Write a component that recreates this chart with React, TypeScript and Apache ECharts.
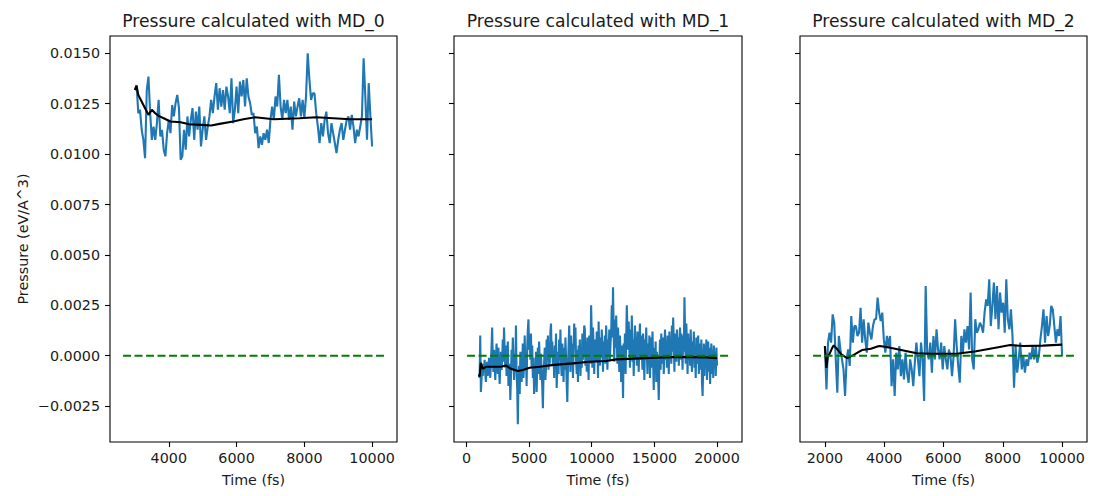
import React, { useEffect, useRef } from "react";
import * as echarts from "echarts";

// ---------- DATA ----------
const TITLES = ["Pressure calculated with MD_0", "Pressure calculated with MD_1", "Pressure calculated with MD_2"];
const X_LABEL = "Time (fs)";
const Y_LABEL = "Pressure (eV/A^3)";

// time sampling of each run (fs)
const TIME_RANGE_1 = [3000, 10000];
const TIME_RANGE_2 = [1000, 20000];
const TIME_RANGE_3 = [2000, 10000];

// instantaneous pressure, MD_0
const P1 = [
  0.01318, 0.01343, 0.01203, 0.0122, 0.01121, 0.01071, 0.0098, 0.01318, 0.01385, 0.01203,
  0.01071, 0.01137, 0.01071, 0.01154, 0.01269, 0.01088, 0.01121, 0.01022, 0.00989, 0.01104,
  0.0117, 0.01104, 0.01244, 0.01187, 0.01253, 0.01294, 0.01228, 0.00972, 0.00989, 0.01121,
  0.01022, 0.01187, 0.01088, 0.0117, 0.01228, 0.01071, 0.01211, 0.01121, 0.01236, 0.01038,
  0.01121, 0.01187, 0.01071, 0.01137, 0.01187, 0.01269, 0.01203, 0.01286, 0.01352, 0.0122,
  0.01327, 0.01236, 0.01318, 0.0122, 0.01335, 0.01286, 0.01203, 0.01376, 0.01154, 0.0122,
  0.01335, 0.01203, 0.0136, 0.01286, 0.01368, 0.01236, 0.01376, 0.01286, 0.01253, 0.01195,
  0.01203, 0.01104, 0.01137, 0.0103, 0.01088, 0.01046, 0.01104, 0.01071, 0.01121, 0.01055,
  0.0117, 0.01236, 0.0117, 0.01286, 0.01236, 0.01393, 0.01236, 0.0117, 0.01269, 0.01203,
  0.01269, 0.0117, 0.01236, 0.01121, 0.01261, 0.01187, 0.01236, 0.01277, 0.01187, 0.01269,
  0.01178, 0.01286, 0.015, 0.01368, 0.01269, 0.01302, 0.01302, 0.01203, 0.01137, 0.01055,
  0.01154, 0.01088, 0.0117, 0.01211, 0.01104, 0.01055, 0.01154, 0.01104, 0.01055, 0.01005,
  0.01071, 0.01121, 0.01154, 0.01071, 0.01121, 0.0117, 0.01187, 0.01121, 0.01195, 0.01137,
  0.01055, 0.01121, 0.01088, 0.01137, 0.01187, 0.01475, 0.01286, 0.01071, 0.01352, 0.01187,
  0.01038,
];

// instantaneous pressure, MD_1
const P2 = [
  -0.0009, -0.0011, 0.001, -0.0018, -0.0012, -0.0005, -0.001, -0.0004, -0.0008, -0.0002, -0.0009, -0.0013, -0.0006, -0.0003, -0.001, -0.0007, -0.0001, -0.0006, -0.0011, -0.0004,
  0.0004, 0.0014, -0.0002, -0.0008, 0.0003, -0.0005, -0.0012, -0.0003, 0.0006, -0.0001, -0.0009, 0.0004, -0.0006, -0.0014, -0.0004, 0.0002, -0.0007, -0.0002, 0.0008, -0.0003,
  0.0014, 0.0002, -0.0006, 0.0005, -0.001, -0.0003, 0.0007, -0.0015, -0.0008, -0.0004, -0.0022, -0.0011, 0.0003, -0.0006, 0.0009, -0.0002, -0.0012, 0.0001, -0.0007, 0.0015,
  -0.0009, -0.0016, -0.0034, -0.0012, -0.0005, -0.0019, 0.0002, -0.0008, -0.0013, -0.0003, 0.0006, -0.0011, -0.0004, 0.001, -0.0007, 0.0001, -0.0015, 0.0004, 0.0013, 0.0018,
  0.0003, 0.0009, -0.0002, 0.0011, -0.0006, 0.0005, -0.0011, -0.0001, -0.0019, -0.0008, -0.0014, 0.0002, -0.0018, -0.0005, 0.0004, -0.0009, 0.0007, -0.0003, -0.0012, 0.0001,
  -0.0008, -0.0015, -0.0026, -0.001, -0.0003, 0.0004, -0.0012, -0.0006, 0.0008, -0.0002, 0.001, -0.0007, 0.0003, -0.0004, 0.0012, 0.0016, -0.0001, 0.0007, -0.0005, 0.0002,
  -0.0011, 0.0005, -0.0003, 0.0011, -0.0016, -0.0006, 0.0002, -0.0009, 0.0008, -0.0002, 0.0013, -0.0004, -0.001, 0.0006, 0.0, -0.0013, 0.0004, -0.0007, 0.0009, -0.0001,
  -0.0014, -0.0023, -0.0006, 0.0004, 0.0015, 0.0002, -0.0008, 0.001, -0.0003, 0.0006, -0.0011, 0.0001, 0.0016, 0.0007, 0.0014, -0.0002, -0.0009, 0.0003, -0.0013, 0.0005,
  -0.0004, 0.0008, -0.001, 0.0002, -0.0006, 0.0011, -0.0002, 0.0004, 0.0015, 0.0013, -0.0005, 0.0007, -0.0008, 0.0009, 0.0001, -0.0012, 0.001, 0.0003, -0.0004, 0.0025,
  0.0011, -0.0006, 0.0014, 0.0004, -0.0009, 0.0008, 0.0001, -0.0003, 0.0012, 0.0006, -0.0011, 0.0017, 0.0002, -0.0005, 0.0009, -0.0001, 0.0013, 0.0004, -0.0008, 0.0007,
  0.0, 0.001, -0.0004, 0.0015, 0.0005, -0.0007, 0.0008, 0.0002, 0.0013, -0.0002, 0.0006, 0.0011, 0.0025, 0.0009, 0.0034, 0.0012, -0.0003, 0.0018, 0.0004, 0.002,
  0.0007, -0.0004, 0.0014, 0.0003, -0.0008, 0.001, 0.0001, -0.0013, 0.0005, -0.0005, -0.0021, 0.0006, -0.0002, 0.0011, -0.0009, 0.0008, 0.0025, 0.0012, 0.0003, 0.0017,
  0.0004, -0.0006, 0.0013, 0.0001, 0.002, -0.0003, 0.0008, -0.001, 0.0006, 0.0015, -0.0001, 0.0009, -0.0005, 0.0012, 0.0003, -0.0008, 0.0007, 0.0016, -0.0002, 0.001,
  0.0002, -0.0007, 0.0011, 0.0005, -0.0012, 0.0008, -0.0002, 0.0014, 0.0001, -0.0009, 0.0006, -0.0004, 0.001, -0.0011, 0.0003, 0.0009, -0.0006, 0.0012, -0.0003, -0.0017,
  0.0004, -0.0008, 0.0007, -0.0013, 0.0002, -0.0005, -0.001, -0.0022, -0.0003, 0.0008, -0.0007, 0.0011, 0.0001, -0.0004, 0.0009, -0.0009, 0.0005, 0.0013, -0.0002, 0.0007,
  -0.0006, 0.001, 0.0003, -0.0009, 0.0012, -0.0001, 0.0006, -0.0004, 0.0015, 0.0002, 0.0019, 0.0007, -0.0008, 0.0011, 0.0004, -0.0003, 0.0013, 0.0, 0.0009, -0.0005,
  0.0008, 0.0014, -0.0002, 0.0011, 0.0005, -0.0007, 0.001, 0.0002, 0.0029, 0.0012, -0.0004, 0.0016, 0.0006, -0.0009, 0.0011, 0.0003, 0.0008, -0.0005, 0.0013, 0.0001,
  -0.0008, 0.0007, -0.0002, 0.0012, -0.0006, 0.0004, -0.0011, 0.0009, 0.0001, -0.0004, 0.001, -0.0009, 0.0006, 0.0002, -0.0007, 0.0008, -0.0013, -0.002, -0.0005, 0.0006,
  -0.001, 0.0005, -0.0003, 0.0008, -0.0012, -0.0001, 0.0007, -0.0008, 0.0004, -0.0014, -0.0002, 0.0006, -0.0009, 0.0003, -0.0011, 0.0005, -0.0006, 0.0002, -0.001, 0.0004,
  -0.0005,
];

// instantaneous pressure, MD_2
const P3 = [
  0.00048, -0.00167, 0.00065, 0.00114, 0.00065, 0.00205, 0.00164, -0.00018, -0.00184, 0.00098,
  0.00031, -0.00018, -0.00068, -0.002, -0.00018, 0.00031, -0.00051, 0.00197, 0.00065, 0.00147,
  0.00147, 0.00098, 0.00114, 0.00238, 0.00065, 0.00181, 0.00081, 0.00015, 0.00164, 0.00114,
  0.00081, 0.00147, 0.00181, 0.00181, 0.00288, 0.00214, 0.00172, 0.00214, 0.00081, 0.00015,
  0.00098, 0.00048, 0.00098, -0.00151, -0.00018, -0.002, 0.00015, -0.00068, 0.00048, -0.00101,
  -0.00018, -0.00118, 0.00015, -0.00084, -0.00134, -0.00018, -0.00068, -0.00151, -0.00035, 0.00065,
  -0.00018, -0.00101, 0.00065, -0.00018, -0.00225, 0.00346, 0.00015, -0.00018, 0.00065, -0.00084,
  0.00098, -0.00018, 0.00131, 0.00031, -0.00018, 0.00065, -0.00068, 0.00048, -0.00018, -0.00068,
  0.00031, -0.00002, -0.00101, -0.00002, 0.00181, 0.00048, -0.00051, -0.00134, 0.00098, 0.00015,
  0.00131, 0.00065, 0.00147, 0.00031, 0.00313, -0.00018, -0.00068, 0.00181, 0.00114, 0.00131,
  0.00164, 0.00147, 0.00114, 0.00214, 0.0028, 0.00247, 0.00379, 0.00147, 0.00247, 0.00363,
  0.00181, 0.00346, 0.00131, 0.00313, 0.00214, 0.00263, 0.00114, 0.00379, 0.00181, 0.00131,
  0.0023, 0.00098, -0.00159, 0.00048, -0.00084, -0.00018, 0.00065, -0.00068, -0.00002, -0.00084,
  -0.00018, -0.00051, 0.00015, -0.00018, 0.00048, -0.00018, 0.00048, -0.00035, -0.00002, 0.00081,
  0.00147, 0.0023, 0.00065, 0.00197, 0.00098, 0.00147, 0.00247, 0.0023, 0.00147, 0.00065,
  0.00131, 0.00098, 0.00197, -0.00002,
];

// running average (black curves)
const AVG1_T = [3000, 3050, 3100, 3150, 3250, 3400, 3500, 3600, 3700, 3850, 4050, 4350, 4600, 4950, 5250, 5500, 5900, 6200, 6550, 7100, 7850, 8350, 8850, 9350, 10000];
const AVG1_V = [0.01318, 0.01338, 0.01294, 0.01277, 0.01244, 0.01195, 0.0122, 0.01203, 0.0119, 0.01178, 0.01162, 0.01158, 0.01148, 0.01145, 0.01142, 0.0115, 0.01162, 0.01173, 0.01183, 0.01173, 0.01178, 0.01183, 0.01178, 0.01173, 0.01173];

const AVG2_T = [1000, 1050, 1100, 1150, 1300, 1550, 2100, 2750, 3150, 3550, 4100, 4500, 5050, 5850, 6650, 7450, 8500, 9800, 11150, 11950, 13800, 15150, 16500, 17800, 19150, 20000];
const AVG2_V = [-0.00093, -0.00104, -0.00068, -0.00035, -0.00065, -0.00055, -0.00055, -0.00055, -0.00048, -0.00065, -0.00076, -0.00071, -0.0006, -0.00055, -0.00048, -0.00043, -0.00038, -0.0003, -0.00026, -0.00018, -0.00013, -0.0001, -0.00007, -0.00007, -0.00008, -0.00012];

const AVG3_T = [2000, 2050, 2100, 2150, 2250, 2300, 2400, 2550, 2750, 2900, 3100, 3250, 3550, 3750, 3850, 4200, 4650, 5100, 5550, 6450, 7100, 7800, 8250, 8700, 9350, 10000];
const AVG3_V = [0.00048, -0.0006, 0.0, 0.00007, 0.0004, 0.00051, 0.00035, 0.00007, -0.00012, -0.00002, 0.00015, 0.00028, 0.00035, 0.00045, 0.00048, 0.0004, 0.00026, 0.00012, 0.0001, 0.0001, 0.00022, 0.00041, 0.00053, 0.00048, 0.0005, 0.00055];

// zero reference (green dashed) extents
const ZERO_X1 = [2650, 10350];
const ZERO_X2 = [50, 20950];
const ZERO_X3 = [1600, 10400];

// axes
const X_MIN = [2265, -995, 1160];
const X_MAX = [10735, 21995, 10840];
const X_TICKS = [
  [4000, 6000, 8000, 10000],
  [0, 5000, 10000, 15000, 20000],
  [2000, 4000, 6000, 8000, 10000],
];
const Y_MIN = -0.00428;
const Y_MAX = 0.01586;
const Y_TICKS = [-0.0025, 0, 0.0025, 0.005, 0.0075, 0.01, 0.0125, 0.015];

// ---------- CHART ----------
const FONT = "DejaVu Sans";
const TEXT = "#1a1a1a";
const GRIDS = [
  { left: 110, width: 287 },
  { left: 454, width: 288 },
  { left: 800, width: 287 },
];
const TOP = 36;
const HEIGHT = 406;

function sampled(range: number[], vals: number[]) {
  const n = vals.length;
  const step = (range[1] - range[0]) / (n - 1);
  return vals.map((v, i) => [range[0] + i * step, v]);
}
function pairs(ts: number[], vs: number[]) {
  return ts.map((t, i) => [t, vs[i]]);
}
function fmtY(v: number) {
  const s = Math.abs(v).toFixed(4);
  return v < -1e-12 ? "\u2212" + s : s;
}

export default function App() {
  const ref = useRef<HTMLDivElement>(null);
  useEffect(() => {
    if (!ref.current) return;
    const chart = echarts.init(ref.current, undefined, { renderer: "svg" });
    const blue = [sampled(TIME_RANGE_1, P1), sampled(TIME_RANGE_2, P2), sampled(TIME_RANGE_3, P3)];
    const avg = [pairs(AVG1_T, AVG1_V), pairs(AVG2_T, AVG2_V), pairs(AVG3_T, AVG3_V)];
    const zeros = [ZERO_X1, ZERO_X2, ZERO_X3].map((z) => z.map((x) => [x, 0]));

    const series: any[] = [];
    [0, 1, 2].forEach((i) => {
      series.push({
        type: "line", xAxisIndex: i, yAxisIndex: i, data: blue[i], showSymbol: false,
        lineStyle: { color: "#1f77b4", width: 2.1 }, z: 2,
      });
      series.push({
        type: "line", xAxisIndex: i, yAxisIndex: i, data: avg[i], showSymbol: false,
        lineStyle: { color: "#000000", width: 2.1 }, z: 3,
      });
      series.push({
        type: "line", xAxisIndex: i, yAxisIndex: i, data: zeros[i], showSymbol: false,
        lineStyle: { color: "#008000", width: 2.1, type: [8, 3.5] }, z: 4,
      });
    });

    const option: any = {
      animation: false,
      grid: GRIDS.map((g) => ({
        left: g.left, width: g.width, top: TOP, height: HEIGHT,
        show: true, borderColor: "#000", borderWidth: 1.1, backgroundColor: "transparent",
      })),
      xAxis: [0, 1, 2].map((i) => ({
        type: "value", gridIndex: i, min: X_MIN[i], max: X_MAX[i], position: "bottom",
        splitLine: { show: false }, axisLine: { show: false, onZero: false },
        axisTick: { show: true, inside: false, length: 5, customValues: X_TICKS[i], lineStyle: { color: "#000", width: 1.1 } },
        axisLabel: {
          customValues: X_TICKS[i], fontSize: 14.3, fontFamily: FONT, color: TEXT, margin: 9,
          formatter: (v: number) => String(v),
        },
        name: X_LABEL, nameLocation: "middle", nameGap: 31,
        nameTextStyle: { fontSize: 14.3, fontFamily: FONT, color: TEXT },
      })),
      yAxis: [0, 1, 2].map((i) => ({
        type: "value", gridIndex: i, min: Y_MIN, max: Y_MAX, position: "left",
        splitLine: { show: false }, axisLine: { show: false, onZero: false },
        axisTick: { show: true, inside: false, length: 5, customValues: Y_TICKS, lineStyle: { color: "#000", width: 1.1 } },
        axisLabel: {
          show: i === 0, customValues: Y_TICKS, fontSize: 14.3, fontFamily: FONT, color: TEXT, margin: 10,
          formatter: fmtY,
        },
        name: i === 0 ? Y_LABEL : "", nameLocation: "middle", nameGap: 80,
        nameTextStyle: { fontSize: 14.3, fontFamily: FONT, color: TEXT },
      })),
      graphic: GRIDS.map((g, i) => ({
        type: "text", x: g.left + g.width / 2, y: 21,
        style: {
          text: TITLES[i], font: `17.2px "${FONT}"`, fill: TEXT,
          align: "center", verticalAlign: "middle",
        },
      })),
      series,
    };
    chart.setOption(option);
    return () => chart.dispose();
  }, []);
  return (
    <div
      ref={ref}
      style={{ position: "fixed", left: 0, top: 0, width: 1102, height: 496, background: "#fff" }}
    />
  );
}
